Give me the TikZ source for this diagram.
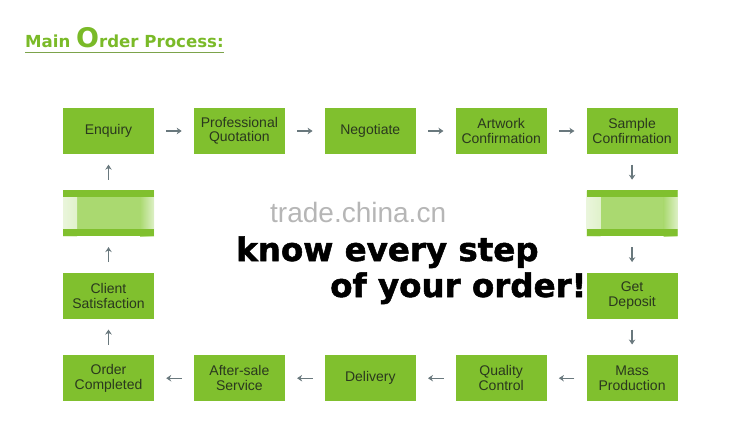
\documentclass[tikz,border=0pt]{standalone}
\usepackage{fontspec}
\setmainfont{Liberation Sans}
\newfontfamily\heavyfont[BoldFeatures={FakeBold=1.6}]{DejaVu Sans}
\newfontfamily\headfont{DejaVu Sans}
\usetikzlibrary{arrows.meta,positioning}
\definecolor{boxgreen}{RGB}{128,192,46}
\definecolor{boxlight}{RGB}{170,217,112}
\definecolor{boxtext}{RGB}{42,56,30}
\definecolor{arrgray}{RGB}{105,120,125}
\definecolor{titlegreen}{RGB}{122,186,40}
\definecolor{markgray}{RGB}{182,182,182}

\begin{document}
\begin{tikzpicture}[x=1pt,y=-1pt,
  font=\fontsize{14}{14.5}\selectfont, node distance=36pt and 39.5pt,
  b/.style={fill=boxgreen,text=boxtext,minimum width=91pt,minimum height=46pt,inner sep=0pt,align=center},
  bl/.style={b,fill=boxlight,path picture={
    \shade[left color=boxlight!25,right color=boxlight] (path picture bounding box.south west) rectangle ([xshift=14pt]path picture bounding box.north west);
    \shade[left color=boxlight,right color=boxlight!40] ([xshift=-14pt]path picture bounding box.south east) rectangle (path picture bounding box.north east);
    \fill[boxgreen] (path picture bounding box.north west) rectangle ([yshift=-7pt]path picture bounding box.north east);
    \fill[boxgreen] (path picture bounding box.south west) rectangle ([yshift=7pt]path picture bounding box.south east);}},
  a/.style={draw=arrgray,line width=1.4pt,-{Stealth[length=5pt,width=6.5pt]},shorten <=12pt,shorten >=12pt},
  av/.style={a,shorten <=10.5pt,shorten >=10.5pt},
  big/.style={anchor=base west,inner sep=0pt,font=\heavyfont\bfseries\fontsize{32.5}{32.5}\selectfont}]
\useasboundingbox (0,0) rectangle (729,444);
\node[anchor=base west,inner sep=0pt,text=titlegreen,font=\headfont\bfseries\fontsize{16.6}{18}\selectfont] (title) at (25,48) {Main {\fontsize{27}{27}\selectfont O}rder Process:};
\draw[titlegreen!60!gray,line width=0.6pt] ([yshift=-4pt]title.base west) -- ([yshift=-4pt]title.base east);
\node[b] (enq) at (108.5,131) {Enquiry};
\node[b,right=of enq] (quot) {Professional\\Quotation};
\node[b,right=of quot] (neg) {Negotiate};
\node[b,right=of neg] (art) {Artwork\\Confirmation};
\node[b,right=of art] (samp) {Sample\\Confirmation};
\node[bl,below=of samp] (blankr) {};
\node[b,below=of blankr] (dep) {Get\\Deposit};
\node[b,below=of dep] (mass) {Mass\\Production};
\node[b,left=of mass] (qc) {Quality\\Control};
\node[b,left=of qc] (deliv) {Delivery};
\node[b,left=of deliv] (after) {After-sale\\Service};
\node[b,left=of after] (done) {Order\\Completed};
\node[b,above=of done] (client) {Client\\Satisfaction};
\node[bl,above=of client] (blankl) {};
\draw[a](enq)--(quot);\draw[a](quot)--(neg);\draw[a](neg)--(art);\draw[a](art)--(samp);
\draw[av](samp)--(blankr);\draw[av](blankr)--(dep);\draw[av](dep)--(mass);
\draw[a](mass)--(qc);\draw[a](qc)--(deliv);\draw[a](deliv)--(after);\draw[a](after)--(done);
\draw[av](done)--(client);\draw[av](client)--(blankl);\draw[av](blankl)--(enq);
\node[anchor=base west,inner sep=0pt,text=markgray,font=\fontsize{28}{28}\selectfont] (mark) at (270,222) {trade.china.cn};
\node[big] (slog1) at (236,261) {know every step};
\node[big] (slog2) at (330,297) {of your order!};
\end{tikzpicture}
\end{document}
